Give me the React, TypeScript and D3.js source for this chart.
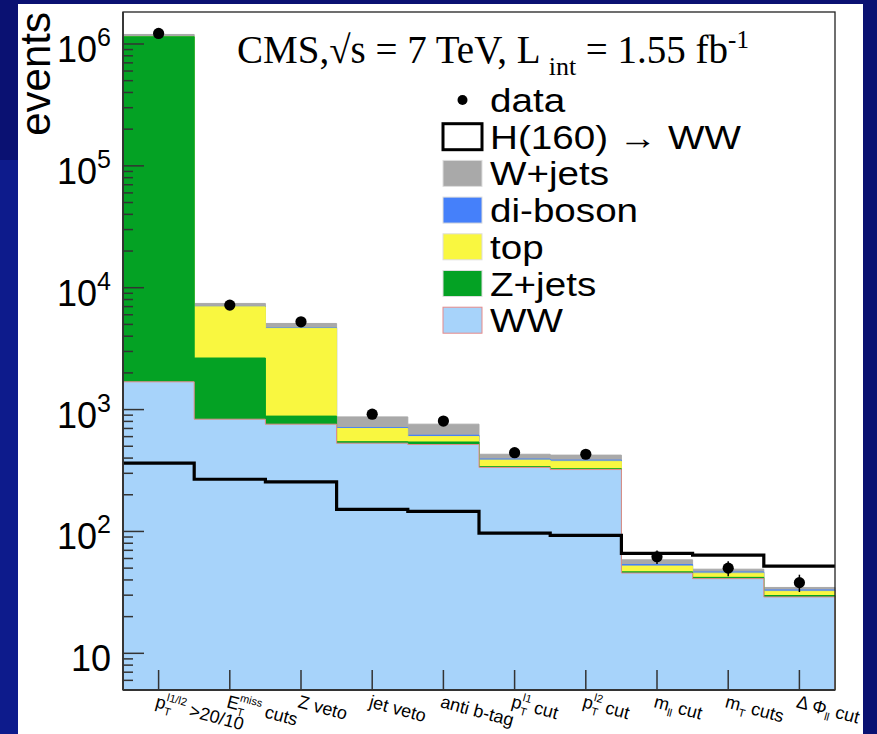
import React from "react";
import * as d3 from "d3";

// ---- data ----
const categories = ["pt", "met", "zveto", "jetveto", "antib", "ptl1", "ptl2", "mll", "mt", "dphi"];
const wwVals = [1690, 834, 759, 530, 517, 335, 322, 45.6, 41, 29];
const zjetsVals = [1145000, 1816, 125, 15, 25, 5, 5, 1, 1, 0.8];
const topVals = [3000, 4320, 3760, 155, 58, 45, 50, 5.4, 3.5, 2.5];
const dibosonVals = [1500, 50, 46, 12, 16, 8, 8, 1.5, 1, 0.8];
const wjetsVals = [46000, 410, 400, 159, 143, 37, 38, 5, 2.5, 1.6];
const higgsVals = [363, 268, 255, 152, 146, 97, 93, 66, 64, 52];
const dataVals = [1220000, 7200, 5250, 917, 805, 443, 430, 62, 50, 38];
const yTickPowers = [1, 2, 3, 4, 5, 6];

type Part = { t: string; k?: "sub" | "sup" | "back" };
const xLabels: Part[][] = [
  [{ t: "p" }, { t: "T", k: "sub" }, { t: "l1/l2", k: "sup" }, { t: " >20/10", k: "back" }],
  [{ t: "E" }, { t: "T", k: "sub" }, { t: "miss", k: "sup" }, { t: " cuts", k: "back" }],
  [{ t: "Z veto" }],
  [{ t: "jet veto" }],
  [{ t: "anti b-tag" }],
  [{ t: "p" }, { t: "T", k: "sub" }, { t: "l1", k: "sup" }, { t: " cut", k: "back" }],
  [{ t: "p" }, { t: "T", k: "sub" }, { t: "l2", k: "sup" }, { t: " cut", k: "back" }],
  [{ t: "m" }, { t: "ll", k: "sub" }, { t: " cut", k: "back" }],
  [{ t: "m" }, { t: "T", k: "sub" }, { t: " cuts", k: "back" }],
  [{ t: "\u0394 \u03A6" }, { t: "ll", k: "sub" }, { t: " cut", k: "back" }],
];

const legendItems = [
  { label: "data", kind: "dot", color: "#000" },
  { label: "H(160) \u2192 WW", kind: "line", color: "#000" },
  { label: "W+jets", kind: "fill", color: "#a9a9a9" },
  { label: "di-boson", kind: "fill", color: "#4580fa" },
  { label: "top", kind: "fill", color: "#f9f740" },
  { label: "Z+jets", kind: "fill", color: "#04a224" },
  { label: "WW", kind: "fill", color: "#a7d3fa", stroke: "#e58a8a" },
];

const W = 877, H = 734;
const X0 = 123, X1 = 835, YT = 12, YB = 690;
const YMIN = 5, YMAX = 1.83e6;

export default function App() {
  const n = categories.length;
  const x = d3.scaleLinear().domain([0, n]).range([X0, X1]);
  const y = d3.scaleLog().domain([YMIN, YMAX]).range([YB, YT]);

  const stackOrder = [
    { vals: wwVals, color: "#a7d3fa", stroke: "#e58a8a" },
    { vals: zjetsVals, color: "#04a224" },
    { vals: topVals, color: "#f9f740" },
    { vals: dibosonVals, color: "#4580fa" },
    { vals: wjetsVals, color: "#a9a9a9" },
  ];
  const cums: number[][] = [];
  let run = new Array(n).fill(0);
  stackOrder.forEach((s) => {
    run = run.map((r, i) => r + s.vals[i]);
    cums.push(run.slice());
  });

  const pts = (vals: number[]) =>
    d3.range(n + 1).map((i) => ({ xi: i, v: vals[Math.min(i, n - 1)] }));
  const area = d3
    .area<{ xi: number; v: number }>()
    .x((d) => x(d.xi))
    .y0(YB)
    .y1((d) => y(d.v))
    .curve(d3.curveStepAfter);
  const line = d3
    .line<{ xi: number; v: number }>()
    .x((d) => x(d.xi))
    .y((d) => y(d.v))
    .curve(d3.curveStepAfter);

  const minor: number[] = [];
  for (let p = 0; p <= 6; p++) {
    for (let m = 2; m <= 9; m++) {
      const v = m * Math.pow(10, p);
      if (v >= YMIN && v <= YMAX) minor.push(v);
    }
  }

  const legX = 443, legY0 = 100, legDy = 36.7;

  return (
    <svg width={W} height={H} style={{ position: "absolute", left: 0, top: 0, display: "block" }}
      fontFamily="'Liberation Sans', Arial, sans-serif">
      <rect x={0} y={0} width={W} height={H} fill="#0a1172" />
      <rect x={0} y={160} width={18} height={H - 160} fill="#0d1b8c" />
      <rect x={18} y={4} width={845} height={H - 4} fill="#ffffff" />

      {cums.map((c, k) => k).reverse().map((k) => (
        <path key={"a" + k} d={area(pts(cums[k])) || ""} fill={stackOrder[k].color}
          stroke={stackOrder[k].stroke || stackOrder[k].color} strokeWidth={1} />
      ))}

      <path d={line(pts(higgsVals)) || ""} fill="none" stroke="#000" strokeWidth={3.2} />

      {dataVals.map((v, i) => {
        const e = Math.sqrt(v);
        return (
          <g key={"d" + i}>
            <line x1={x(i + 0.5)} x2={x(i + 0.5)} y1={y(v + e)} y2={y(Math.max(v - e, YMIN))} stroke="#000" strokeWidth={1.5} />
            <circle cx={x(i + 0.5)} cy={y(v)} r={5.6} fill="#000" />
          </g>
        );
      })}

      <rect x={X0} y={YT} width={X1 - X0} height={YB - YT} fill="none" stroke="#222" strokeWidth={1.3} />
      <line x1={X0} x2={X0} y1={YT} y2={YB} stroke="#333" strokeWidth={1.8} />
      <line x1={X0} x2={X1} y1={YB} y2={YB} stroke="#333" strokeWidth={1.8} />

      {yTickPowers.map((p) => (
        <line key={"M" + p} x1={X0} x2={X0 + 21} y1={y(Math.pow(10, p))} y2={y(Math.pow(10, p))} stroke="#333" strokeWidth={1.5} />
      ))}
      {minor.map((v, i) => (
        <line key={"m" + i} x1={X0} x2={X0 + 10} y1={y(v)} y2={y(v)} stroke="#333" strokeWidth={1.5} />
      ))}
      {yTickPowers.map((p) => (
        <text key={"L" + p} x={111} y={y(Math.pow(10, p)) + 18} textAnchor="end" fontSize={36} fill="#000">
          {p === 1 ? "10" : (
            <>
              <tspan>10</tspan>
              <tspan fontSize={25} dy={-16}>{p}</tspan>
            </>
          )}
        </text>
      ))}
      <text transform={`translate(50,12) rotate(-90)`} textAnchor="end" fontSize={42} fill="#000">events</text>

      {categories.map((c, i) => (
        <line key={"xt" + i} x1={x(i + 0.5)} x2={x(i + 0.5)} y1={YB} y2={YB - 20} stroke="#333" strokeWidth={1.5} />
      ))}
      {xLabels.map((parts, i) => (
        <text key={"xl" + i} transform={`translate(${x(i + 0.5) - 4},707) rotate(15)`} fontSize={18} fill="#000">
          {parts.map((p, j) => {
            if (p.k === "sub") return <tspan key={j} fontSize={11} dy={5}>{p.t}</tspan>;
            if (p.k === "sup") return <tspan key={j} fontSize={11} dx={-7} dy={-14}>{p.t}</tspan>;
            if (p.k === "back") {
              const prev = parts[j - 1];
              const d = prev && prev.k === "sup" ? 9 : -5;
              return <tspan key={j} dy={d}>{p.t}</tspan>;
            }
            return <tspan key={j}>{p.t}</tspan>;
          })}
        </text>
      ))}

      <text x={237} y={63} fontFamily="'Liberation Serif', 'Times New Roman', serif" fontSize={39} fill="#000">
        <tspan>CMS,</tspan>
        <tspan>{"\u221A"}</tspan>
        <tspan>s</tspan>
        <tspan> = 7 TeV, L</tspan>
        <tspan fontSize={26} dx={8} dy={12}>int</tspan>
        <tspan dy={-12}> = 1.55 fb</tspan>
        <tspan fontSize={25} dy={-15}>-1</tspan>
      </text>

      {legendItems.map((it, i) => {
        const cy = legY0 + i * legDy;
        return (
          <g key={"lg" + i}>
            {it.kind === "dot" && <circle cx={legX + 19.5} cy={cy} r={5} fill="#000" />}
            {it.kind === "line" && (
              <rect x={legX} y={cy - 13} width={39} height={26} fill="none" stroke="#000" strokeWidth={3} />
            )}
            {it.kind === "fill" && (
              <rect x={legX} y={cy - 13} width={39} height={26} fill={it.color} stroke={it.stroke || "#dddddd"} strokeWidth={1} />
            )}
            <text transform={`translate(490,${cy + 12}) scale(1.17,1)`} fontSize={33} fill="#000">{it.label}</text>
          </g>
        );
      })}

      <rect x={863} y={0} width={W - 863} height={H} fill="#0a1172" />
    </svg>
  );
}
